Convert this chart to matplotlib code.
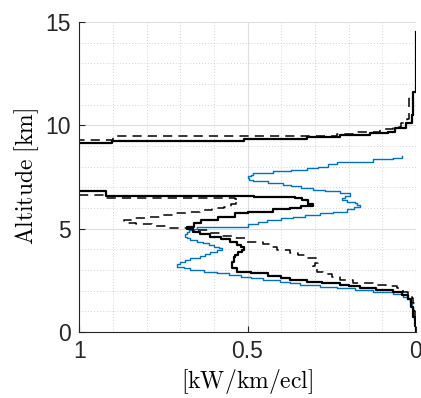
import numpy as np
import matplotlib
matplotlib.use('Agg')
import matplotlib.pyplot as plt
from matplotlib.ticker import MultipleLocator

plt.rcParams['mathtext.fontset'] = 'cm'
plt.rcParams['font.family'] = ['Liberation Sans', 'DejaVu Sans']

# --- DATA (altitude where each layer starts [km], power [kW/km/ecl]) ---
alt_solid = [0.0, 0.3, 0.7, 1.2, 1.6, 1.8, 1.95, 2.05, 2.11, 2.2, 2.27, 2.35, 2.43,
             2.52, 2.6, 2.7, 2.84, 2.92, 3.08, 3.24, 3.4, 3.64, 3.73, 3.85, 3.97,
             4.1, 4.21, 4.37, 4.5, 4.61, 4.75, 4.85, 4.98, 5.1, 5.26, 5.42, 5.58,
             5.74, 5.82, 5.94, 6.02, 6.07, 6.2, 6.39, 6.47, 6.52, 6.6, 6.8, 9.13,
             9.25, 9.34, 9.45, 9.53, 9.61, 9.69, 9.85, 10.1, 10.5, 11.6, 14.5]
val_solid = [0.0, 0.002, 0.008, 0.015, 0.024, 0.04, 0.068, 0.12, 0.166, 0.2, 0.225,
             0.28, 0.324, 0.374, 0.40, 0.44, 0.49, 0.532, 0.547, 0.547, 0.54, 0.537,
             0.527, 0.515, 0.512, 0.52, 0.532, 0.552, 0.58, 0.611, 0.64, 0.661, 0.68,
             0.66, 0.637, 0.588, 0.538, 0.498, 0.423, 0.374, 0.34, 0.305, 0.32, 0.339,
             0.36, 0.48, 0.92, 1.3, 0.903, 0.512, 0.324, 0.226, 0.136, 0.082, 0.062,
             0.03, 0.012, 0.008, 0.001, 0.001]

alt_dash = [0.0, 0.5, 1.0, 1.4, 1.63, 1.8, 1.95, 2.11, 2.2, 2.27, 2.39, 2.52, 2.65,
            2.8, 2.92, 3.08, 3.2, 3.32, 3.48, 3.56, 3.7, 3.8, 3.97, 4.1, 4.26, 4.37,
            4.53, 4.65, 4.78, 4.94, 5.05, 5.13, 5.2, 5.29, 5.42, 5.5, 5.58, 5.66,
            5.74, 5.82, 5.9, 6.0, 6.06, 6.18, 6.3, 6.42, 6.5, 6.63, 9.3, 9.48, 9.58,
            9.69, 9.8, 9.93, 10.1, 10.3, 11.45]
val_dash = [0.0, 0.003, 0.006, 0.01, 0.013, 0.025, 0.038, 0.057, 0.09, 0.127, 0.186,
            0.226, 0.25, 0.275, 0.295, 0.305, 0.30, 0.29, 0.295, 0.324, 0.35, 0.374,
            0.413, 0.43, 0.453, 0.502, 0.542, 0.58, 0.611, 0.66, 0.736, 0.785, 0.83,
            0.866, 0.835, 0.80, 0.756, 0.72, 0.677, 0.64, 0.607, 0.57, 0.548, 0.535,
            0.528, 0.538, 0.924, 1.3, 0.9, 0.235, 0.187, 0.107, 0.068, 0.045, 0.028,
            0.022, 0.022]

alt_blue = [0.0, 0.4, 0.74, 1.2, 1.47, 1.6, 1.71, 1.84, 1.95, 2.03, 2.11, 2.19, 2.27,
            2.35, 2.43, 2.52, 2.6, 2.68, 2.76, 2.84, 2.92, 3.0, 3.08, 3.16, 3.27,
            3.38, 3.48, 3.56, 3.66, 3.75, 3.85, 3.97, 4.05, 4.13, 4.21, 4.29, 4.37,
            4.45, 4.53, 4.61, 4.73, 4.85, 4.93, 5.0, 5.06, 5.1, 5.2, 5.34, 5.42, 5.5,
            5.58, 5.66, 5.74, 5.82, 5.94, 6.03, 6.15, 6.22, 6.3, 6.39, 6.48, 6.58,
            6.71, 6.8, 6.87, 6.95, 7.04, 7.12, 7.2, 7.28, 7.36, 7.43, 7.52, 7.6, 7.71,
            7.78, 7.84, 7.92, 8.0, 8.13, 8.2, 8.24, 8.35, 8.42, 8.5]
val_blue = [0.0, 0.004, 0.008, 0.013, 0.018, 0.028, 0.038, 0.067, 0.127, 0.18, 0.235,
            0.285, 0.344, 0.375, 0.404, 0.453, 0.49, 0.52, 0.555, 0.591, 0.63, 0.67,
            0.69, 0.71, 0.70, 0.685, 0.67, 0.64, 0.625, 0.611, 0.59, 0.577, 0.585, 0.60,
            0.615, 0.631, 0.65, 0.67, 0.68, 0.685, 0.68, 0.675, 0.66, 0.65, 0.59, 0.5,
            0.47, 0.443, 0.40, 0.364, 0.33, 0.285, 0.245, 0.206, 0.185, 0.166, 0.175,
            0.18, 0.205, 0.22, 0.21, 0.196, 0.226, 0.27, 0.305, 0.34, 0.37, 0.394,
            0.44, 0.483, 0.495, 0.5, 0.49, 0.483, 0.423, 0.37, 0.324, 0.29, 0.26,
            0.235, 0.18, 0.127, 0.067, 0.042, 0.042]

# --- PLOT ---
fig = plt.figure(figsize=(4.21, 3.98), dpi=100)
ax = fig.add_axes([0.188, 0.166, 0.800, 0.779])

ax.plot(val_blue, alt_blue, drawstyle='steps-pre', color='#0072BD', lw=1.0)
ax.plot(val_dash, alt_dash, drawstyle='steps-pre', color='black', lw=1.1,
        linestyle=(0, (6, 4)))
ax.plot(val_solid, alt_solid, drawstyle='steps-pre', color='black', lw=1.6)

ax.set_xlim(1, 0)
ax.set_ylim(0, 15)
ax.set_xticks([1, 0.5, 0])
ax.set_xticklabels(['1', '0.5', '0'])
ax.set_yticks([0, 5, 10, 15])
ax.xaxis.set_minor_locator(MultipleLocator(0.1))
ax.yaxis.set_minor_locator(MultipleLocator(1))

ax.grid(True, which='major', color='#dedede', lw=0.8, linestyle='-')
ax.grid(True, which='minor', color='#c4c4c4', lw=0.6, linestyle=(0, (1, 2.5)))
ax.set_axisbelow(True)

for side in ['top', 'right']:
    ax.spines[side].set_visible(False)
for side in ['left', 'bottom']:
    ax.spines[side].set_color('#262626')
    ax.spines[side].set_linewidth(0.8)

ax.tick_params(which='both', direction='in', labelsize=16.5, colors='#262626', pad=6)
ax.tick_params(which='major', length=4)
ax.tick_params(which='minor', length=0)

ax.set_ylabel(r'$\mathrm{Altitude\ [km]}$', fontsize=17, labelpad=3)
ax.set_xlabel(r'$\mathrm{[kW/km/ecl]}$', fontsize=17, labelpad=3)

fig.savefig('out.png', dpi=100)
